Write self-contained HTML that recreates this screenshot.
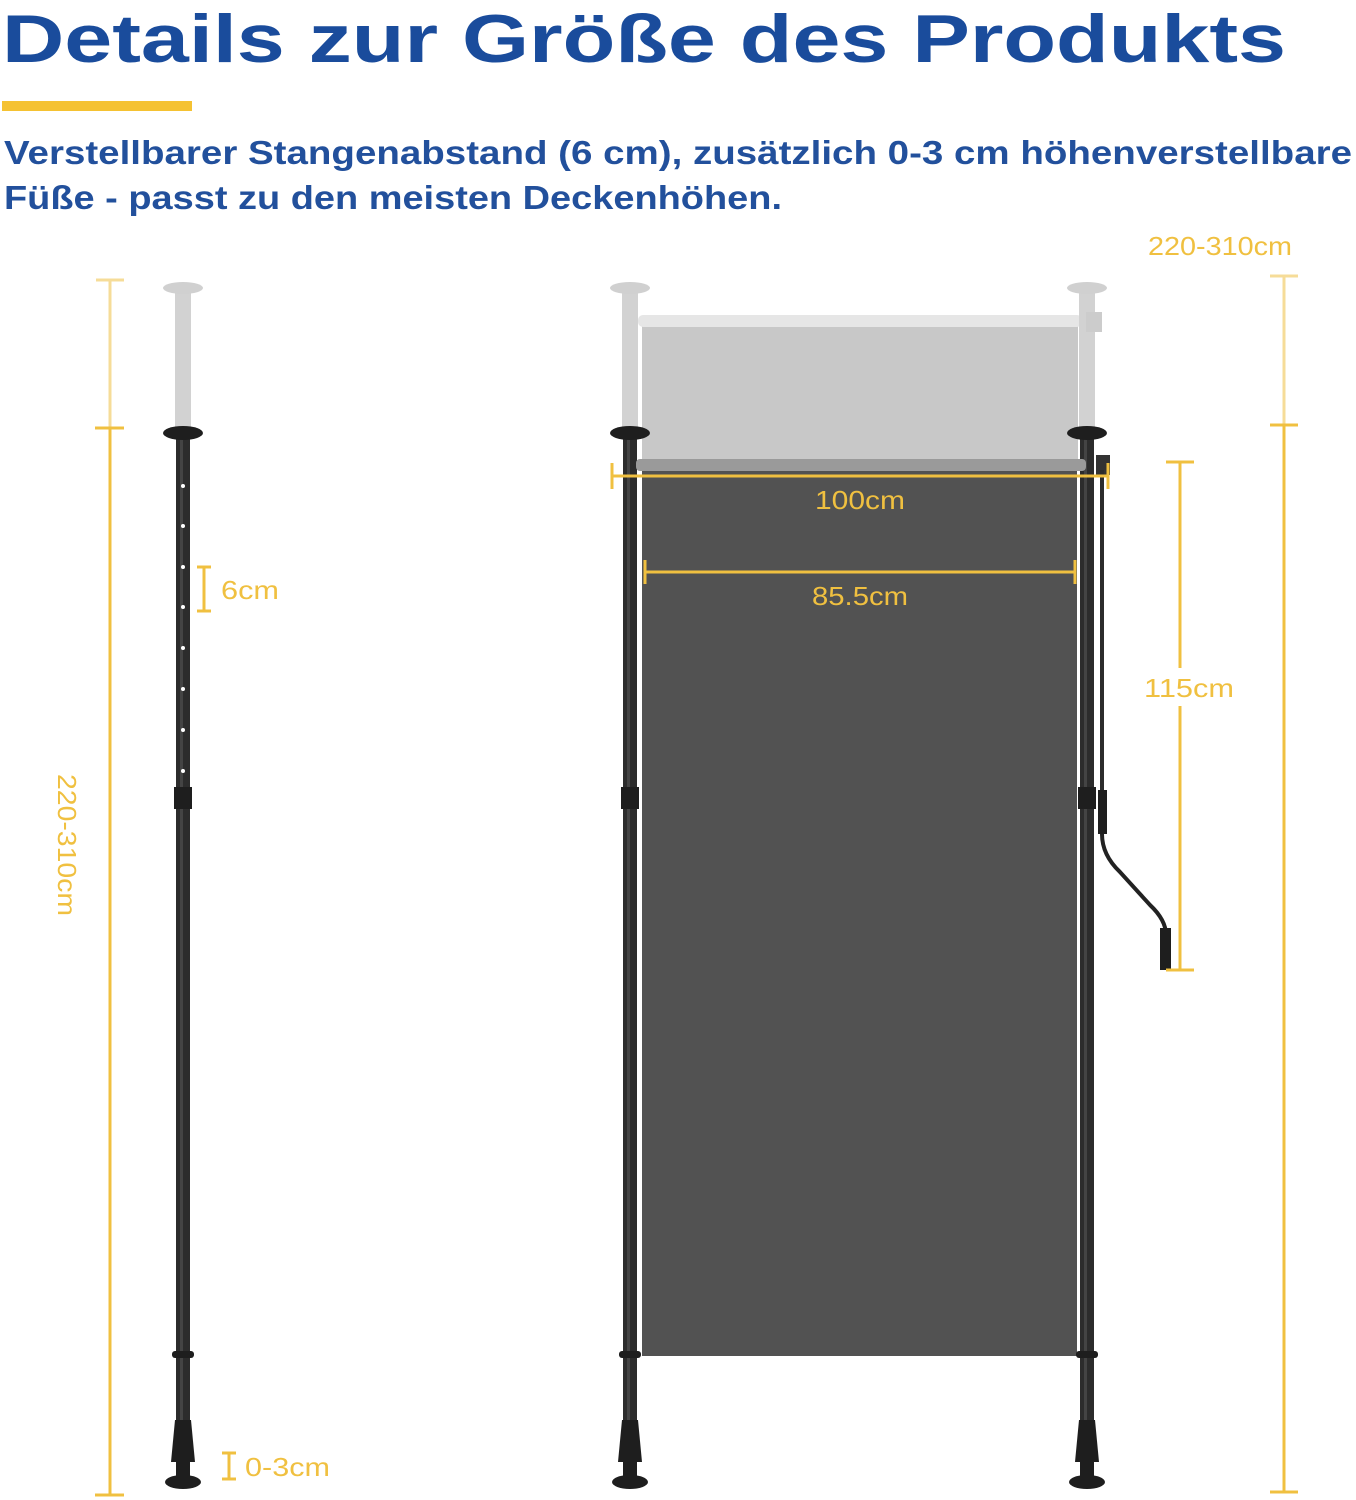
<!DOCTYPE html>
<html><head><meta charset="utf-8"><style>body{margin:0;background:#fff}svg{display:block}</style></head><body>
<svg width="1356" height="1500" viewBox="0 0 1356 1500" xmlns="http://www.w3.org/2000/svg" font-family="Liberation Sans, sans-serif">
<text x="2" y="62" font-size="68" font-weight="bold" fill="#1a4c9c" textLength="1284" lengthAdjust="spacingAndGlyphs">Details zur Größe des Produkts</text>
<rect x="2" y="101" width="190" height="10" fill="#f5c232"/>
<text x="4" y="164" font-size="33" font-weight="bold" fill="#22509c" textLength="1348" lengthAdjust="spacingAndGlyphs">Verstellbarer Stangenabstand (6 cm), zusätzlich 0-3 cm höhenverstellbare</text>
<text x="4" y="209" font-size="33" font-weight="bold" fill="#22509c" textLength="778" lengthAdjust="spacingAndGlyphs">Füße - passt zu den meisten Deckenhöhen.</text>

<g stroke-width="3">
<line x1="110" y1="280" x2="110" y2="428" stroke="#f6dc98"/>
<line x1="96" y1="280" x2="124" y2="280" stroke="#f6dc98"/>
<line x1="110" y1="428" x2="110" y2="1495" stroke="#f0c040"/>
<line x1="95" y1="428" x2="124" y2="428" stroke="#f0c040"/>
<line x1="95" y1="1495" x2="124" y2="1495" stroke="#f0c040"/>
<line x1="1284" y1="276" x2="1284" y2="425" stroke="#f6dc98"/>
<line x1="1270" y1="276" x2="1298" y2="276" stroke="#f6dc98"/>
<line x1="1284" y1="425" x2="1284" y2="1492" stroke="#f0c040"/>
<line x1="1270" y1="425" x2="1298" y2="425" stroke="#f0c040"/>
<line x1="1270" y1="1492" x2="1298" y2="1492" stroke="#f0c040"/>
</g>
<text transform="translate(58,845) rotate(90)" text-anchor="middle" font-size="26" fill="#f0c040" textLength="142" lengthAdjust="spacingAndGlyphs">220-310cm</text>
<text x="1220" y="255" text-anchor="middle" font-size="26" fill="#f0c040" textLength="144" lengthAdjust="spacingAndGlyphs">220-310cm</text>

<defs>
<g id="pole">
<rect x="-8" y="290" width="16" height="145" fill="#d2d2d2"/>
<ellipse cx="0" cy="288" rx="20" ry="6" fill="#d0d0d0"/>
<rect x="-7" y="432" width="14" height="1010" fill="#2c2c2c"/>
<rect x="-3" y="432" width="3" height="1010" fill="#444"/>
<ellipse cx="0" cy="433" rx="20" ry="7" fill="#1e1e1e"/>
<rect x="-9" y="787" width="18" height="22" fill="#1e1e1e"/>
<rect x="-11" y="1351" width="22" height="7" rx="3" fill="#1e1e1e"/>
<polygon points="-8,1420 8,1420 12,1462 -12,1462" fill="#1e1e1e"/>
<rect x="-7" y="1460" width="14" height="20" fill="#1e1e1e"/>
<ellipse cx="0" cy="1482" rx="18" ry="7" fill="#1e1e1e"/>
</g>
</defs>
<use href="#pole" x="183" y="0"/>
<g fill="#fff"><circle cx="183" cy="486" r="2"/><circle cx="183" cy="526" r="2"/><circle cx="183" cy="567" r="2"/><circle cx="183" cy="607" r="2"/><circle cx="183" cy="648" r="2"/><circle cx="183" cy="689" r="2"/><circle cx="183" cy="730" r="2"/><circle cx="183" cy="771" r="2"/></g>
<line x1="204" y1="567" x2="204" y2="611" stroke="#f0c040" stroke-width="3"/>
<line x1="197" y1="567" x2="211" y2="567" stroke="#f0c040" stroke-width="3"/>
<line x1="197" y1="611" x2="211" y2="611" stroke="#f0c040" stroke-width="3"/>
<text x="221" y="599" font-size="26" fill="#f0c040" textLength="58" lengthAdjust="spacingAndGlyphs">6cm</text>
<line x1="229" y1="1453" x2="229" y2="1479" stroke="#f0c040" stroke-width="3"/>
<line x1="222" y1="1453" x2="236" y2="1453" stroke="#f0c040" stroke-width="3"/>
<line x1="222" y1="1479" x2="236" y2="1479" stroke="#f0c040" stroke-width="3"/>
<text x="245" y="1476" font-size="26" fill="#f0c040" textLength="85" lengthAdjust="spacingAndGlyphs">0-3cm</text>

<rect x="642" y="322" width="436" height="145" fill="#c8c8c8"/>
<rect x="638" y="315" width="444" height="12" rx="5" fill="#e6e6e6"/>
<rect x="642" y="470" width="435" height="886" fill="#525252"/>
<use href="#pole" x="630" y="0"/>
<use href="#pole" x="1087" y="0"/>
<rect x="636" y="459" width="450" height="12" rx="4" fill="#9a9a9a"/>
<rect x="1086" y="312" width="16" height="20" fill="#ccc"/>
<rect x="1096" y="455" width="14" height="20" fill="#333"/>
<rect x="1100" y="470" width="4" height="330" fill="#2c2c2c"/>
<rect x="1098" y="790" width="9" height="44" fill="#1e1e1e"/>
<path d="M1102,834 Q1102,855 1120,872 L1150,905 Q1166,920 1166,935" fill="none" stroke="#222" stroke-width="4"/>
<rect x="1160" y="928" width="11" height="42" fill="#1e1e1e"/>

<g stroke="#f0c040" stroke-width="3">
<line x1="612" y1="476" x2="1108" y2="476"/>
<line x1="612" y1="463" x2="612" y2="489"/>
<line x1="1108" y1="463" x2="1108" y2="489"/>
<line x1="645" y1="572" x2="1075" y2="572"/>
<line x1="645" y1="560" x2="645" y2="584"/>
<line x1="1075" y1="560" x2="1075" y2="584"/>
<line x1="1180" y1="462" x2="1180" y2="668"/>
<line x1="1180" y1="706" x2="1180" y2="970"/>
<line x1="1166" y1="462" x2="1194" y2="462"/>
<line x1="1166" y1="970" x2="1194" y2="970"/>
</g>
<text x="860" y="509" text-anchor="middle" font-size="26" fill="#f0c040" textLength="90" lengthAdjust="spacingAndGlyphs">100cm</text>
<text x="860" y="605" text-anchor="middle" font-size="26" fill="#f0c040" textLength="96" lengthAdjust="spacingAndGlyphs">85.5cm</text>
<text x="1189" y="697" text-anchor="middle" font-size="26" fill="#f0c040" textLength="90" lengthAdjust="spacingAndGlyphs">115cm</text>
</svg>
</body></html>
